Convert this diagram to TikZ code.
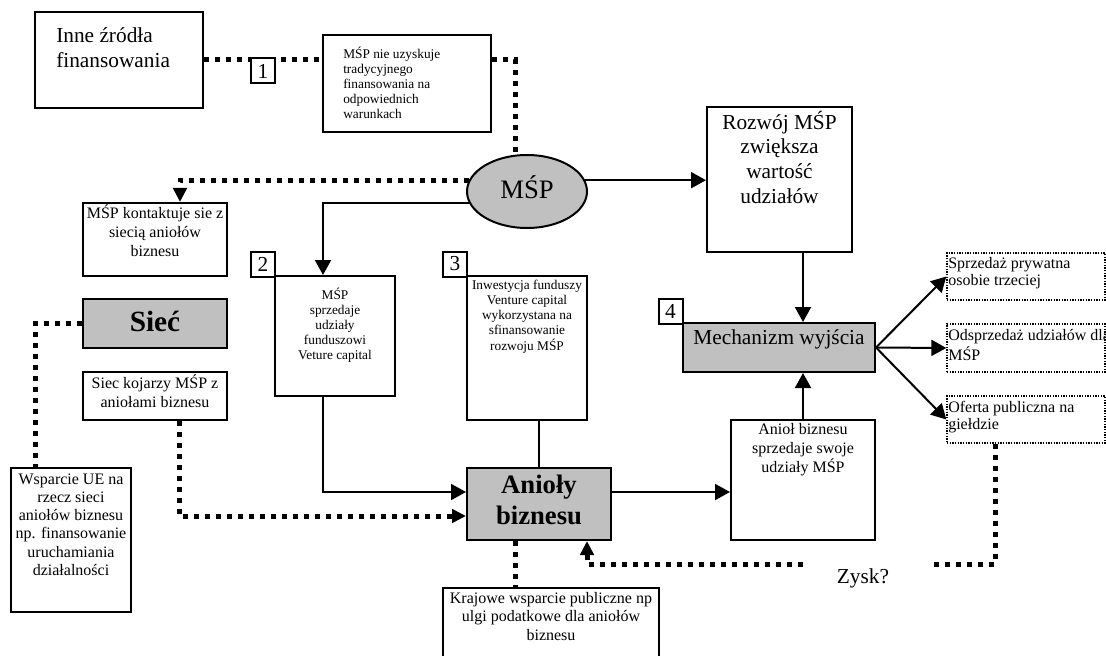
\documentclass[tikz,border=0pt]{standalone}
\usepackage{fontspec}
\setmainfont{Liberation Serif}
\usetikzlibrary{arrows.meta,calc,fit,shapes.geometric}
\definecolor{shade}{HTML}{C0C0C0}
\newcommand\fsz[2]{\fontsize{#1}{#2}\selectfont}
\begin{document}
\begin{tikzpicture}[x=0.75pt,y=-0.75pt,
  box/.style={draw, line width=1.5pt, inner sep=0pt},
  graybox/.style={box, fill=shade},
  numbox/.style={box, fill=white, minimum width=18pt, minimum height=18.75pt, font=\fsz{16}{18}},
  dotbox/.style={draw, line width=1pt, dash pattern=on 1pt off 1pt, inner sep=0pt},
  txt/.style={inner sep=0pt, anchor=north, align=center},
  bigtext/.style={font=\fsz{16}{18.6}},
  medtext/.style={font=\fsz{12}{14}},
  smalltext/.style={font=\fsz{10}{11.4}},
  edgetext/.style={font=\fsz{12}{12.75}},
  boldtext/.style={font=\fsz{20}{23.25}\bfseries},
  solidline/.style={line width=1.5pt},
  arrowline/.style={solidline, -{Triangle[length=11.25pt,width=12pt]}},
  dotline/.style={line width=3.75pt, dash pattern=on 3.75pt off 4.5pt},
  dotarrow/.style={dotline, -{Triangle[length=10.5pt,width=10pt]}},
]
\useasboundingbox (0,0) rectangle (1106,656);

% ---- boxes ----
\node[box, fit={(35,12) (203,108)}] (inne) {};
\node[txt, anchor=north west, align=left, bigtext] (inneT) at (56,24.6) {\strut Inne źródła\\finansowania};

\node[box, fit={(323,35) (491,132)}] (nie) {};
\node[txt, anchor=north west, align=left, smalltext] (nieT) at (343,46.4)
  {\strut MŚP nie uzyskuje\\tradycyjnego\\finansowania na\\odpowiednich\\warunkach};

\node[draw, ellipse, fill=shade, line width=1.5pt, minimum width=90pt,
      minimum height=54.75pt, inner sep=0pt] (msp) at (527,191.5) {};
\node[anchor=base, inner sep=0pt, font=\fsz{20}{24}] (mspT) at (527,199) {MŚP};

\node[box, fit={(83,203) (227,276)}] (kontakt) {};
\node[txt, medtext] (kontaktT) at (155,204.9) {\strut MŚP kontaktuje sie z\\siecią aniołów\\biznesu};

\node[box, fit={(275,276) (395,396)}] (vc) {};
\node[txt, smalltext] (vcT) at (335,287.4) {\strut MŚP\\sprzedaje\\udziały\\funduszowi\\Veture capital};

\node[box, fit={(467,276) (587,420)}] (inv) {};
\node[txt, smalltext] (invT) at (527,278.4)
  {\strut Inwestycja funduszy\\Venture capital\\wykorzystana na\\sfinansowanie\\rozwoju MŚP};

\node[graybox, fit={(83,299) (227,348)}] (siec) {};
\node[anchor=base, inner sep=0pt, font=\fsz{22}{26}\bfseries] (siecT) at (155,331) {Sieć};

\node[box, fit={(83,372) (227,420)}] (kojarzy) {};
\node[txt, medtext] (kojarzyT) at (155,374.9) {\strut Siec kojarzy MŚP z\\aniołami biznesu};

\node[box, fit={(11,468) (131,612)}] (wsp) {};
\node[txt, font=\fsz{12}{13.65}] (wspT) at (71,471.3)
  {\strut Wsparcie UE na\\rzecz sieci\\aniołów biznesu\\np. finansowanie\\uruchamiania\\działalności};

\node[graybox, fit={(467,468) (611,540)}] (anioly) {};
\node[txt, boldtext] (aniolyT) at (539,471.3) {\strut Anioły\\biznesu};

\node[box, fit={(443,588) (659,680)}] (kraj) {};
\node[txt, font=\fsz{12}{13.9}] (krajT) at (551,590)
  {\strut Krajowe wsparcie publiczne np\\ulgi podatkowe dla aniołów\\biznesu};

\node[box, fit={(707,107) (852,252)}] (rozwoj) {};
\node[txt, bigtext] (rozwojT) at (779.5,110.6) {\strut Rozwój MŚP\\zwiększa\\wartość\\udziałów};

\node[graybox, fit={(683,323) (875,372)}] (mech) {};
\node[anchor=base, inner sep=0pt, font=\fsz{16}{18}] (mechT) at (779,344) {Mechanizm wyjścia};

\node[box, fit={(731,420) (875,540)}] (sprz) {};
\node[txt, font=\fsz{12}{14.25}] (sprzT) at (803,420.9) {\strut Anioł biznesu\\sprzedaje swoje\\udziały MŚP};

\node[dotbox, fit={(947,253) (1105,300)}] (priv) {};
\node[txt, anchor=north west, align=left, edgetext] (privT) at (948,256.1) {\strut Sprzedaż prywatna\\osobie trzeciej};

\node[dotbox, fit={(947,324) (1105,372)}] (odsp) {};
\node[txt, anchor=north west, align=left, edgetext] (odspT) at (948,328.1) {\strut Odsprzedaż udziałów dla\\MŚP};

\node[dotbox, fit={(947,396) (1105,443)}] (oferta) {};
\node[txt, anchor=north west, align=left, edgetext] (ofertaT) at (948,400.1) {\strut Oferta publiczna na\\giełdzie};

\node[anchor=base, inner sep=0pt, font=\fsz{16}{18}] (zysk) at (863,583) {Zysk?};

% ---- dotted connectors ----
\draw[dotline] (inne.east) -- (inne.east -| nie.west);
\draw[dotline] (nie.east |- inne.east) -| (msp.108);
\draw[dotarrow] (msp.169) -| ($(kontakt.north)+(25,0)$);
\draw[dotline] (siec.west) -| ($(wsp.north)+(-36,0)$);
\draw[dotarrow] ($(kojarzy.south)+(24,0)$) |- ($(anioly.west)+(0,12)$);
\coordinate (ak) at ($(anioly.south)+(-24,0)$);
\draw[dotline] (ak) -- (ak |- kraj.north);
\coordinate (zr) at (930,564);
\coordinate (zl) at (803,564);
\draw[dotline] ($(oferta.south)+(-31,0)$) |- (zr);
\draw[dotarrow] (zl) -| ($(anioly.south)+(48,0)$);

% ---- solid connectors ----
\draw[arrowline] (msp.191) -| ($(vc.north)+(-12,0)$);
\draw[arrowline] (msp.11) -- (msp.11 -| rozwoj.west);
\draw[arrowline] ($(vc.south)+(-12,0)$) |- ($(anioly.west)+(0,-12)$);
\draw[solidline] (anioly.north) -- (anioly.north |- inv.south);
\coordinate (ae) at ($(anioly.east)+(0,-12)$);
\draw[arrowline] (ae) -- (ae -| sprz.west);
\draw[arrowline] (rozwoj.south -| sprz.north) -- (mech.north -| sprz.north);
\draw[arrowline] (sprz.north) -- (sprz.north |- mech.south);
\draw[arrowline] (mech.east) -- (priv.west);
\draw[arrowline] (mech.east) -- (odsp.west);
\draw[arrowline] (mech.east) -- (oferta.west);

% ---- step numbers ----
\node[numbox] (n1) at (263,71) {1};
\node[numbox] (n2) at (263,264) {2};
\node[numbox] (n3) at (455,264) {3};
\node[numbox] (n4) at (670.5,311) {4};
\end{tikzpicture}
\end{document}
